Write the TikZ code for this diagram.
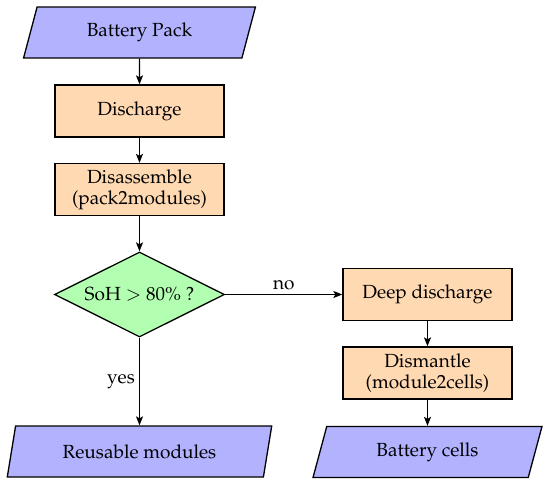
\documentclass[tikz,border=0pt]{standalone}
\usepackage[T1]{fontenc}
\usepackage{mathpazo}
\usetikzlibrary{shapes.geometric,arrows.meta}
\begin{document}
\begin{tikzpicture}[x=1pt,y=-1pt,
  every node/.style={font=\fontsize{19}{21}\selectfont},
  io/.style={trapezium, trapezium left angle=70, trapezium right angle=110,
    trapezium stretches=true, draw, fill=blue!30, line width=1.3pt,
    minimum height=51pt, inner sep=0pt},
  proc/.style={rectangle, draw, fill=orange!30, line width=1.3pt,
    minimum width=169pt, minimum height=52pt, align=center, inner sep=0pt},
  dec/.style={diamond, draw, fill=green!30, line width=1.3pt, aspect=2,
    minimum width=170pt, minimum height=85pt, inner sep=0pt},
  arr/.style={-{Stealth[length=9pt,width=7pt,inset=2pt]}, line width=1.3pt},
  lbl/.style={inner sep=4pt}
]
\useasboundingbox (0,0) rectangle (550,485);
\node[io, minimum width=232pt] (pack) at (139.5,32.5) {Battery Pack};
\node[proc] (dis) at (139.5,111) {Discharge};
\node[proc] (dsa) at (139.5,189.5) {Disassemble\\(pack2modules)};
\node[dec] (soh) at (139.5,294.5) {SoH $>$ 80\% ?};
\node[proc] (deep) at (427.5,294.5) {Deep discharge};
\node[proc] (dism) at (427.5,373) {Dismantle\\(module2cells)};
\node[io, minimum width=265pt] (reuse) at (139.5,451.5) {Reusable modules};
\node[io, minimum width=229pt] (cells) at (427.5,452) {Battery cells};
\draw[arr] (pack) -- (dis);
\draw[arr] (dis) -- (dsa);
\draw[arr] (dsa) -- (soh);
\draw[arr] (soh) -- node[lbl, above]{no} (deep);
\draw[arr] (soh) -- node[lbl, left]{yes} (reuse);
\draw[arr] (deep) -- (dism);
\draw[arr] (dism) -- (cells);
\end{tikzpicture}
\end{document}
